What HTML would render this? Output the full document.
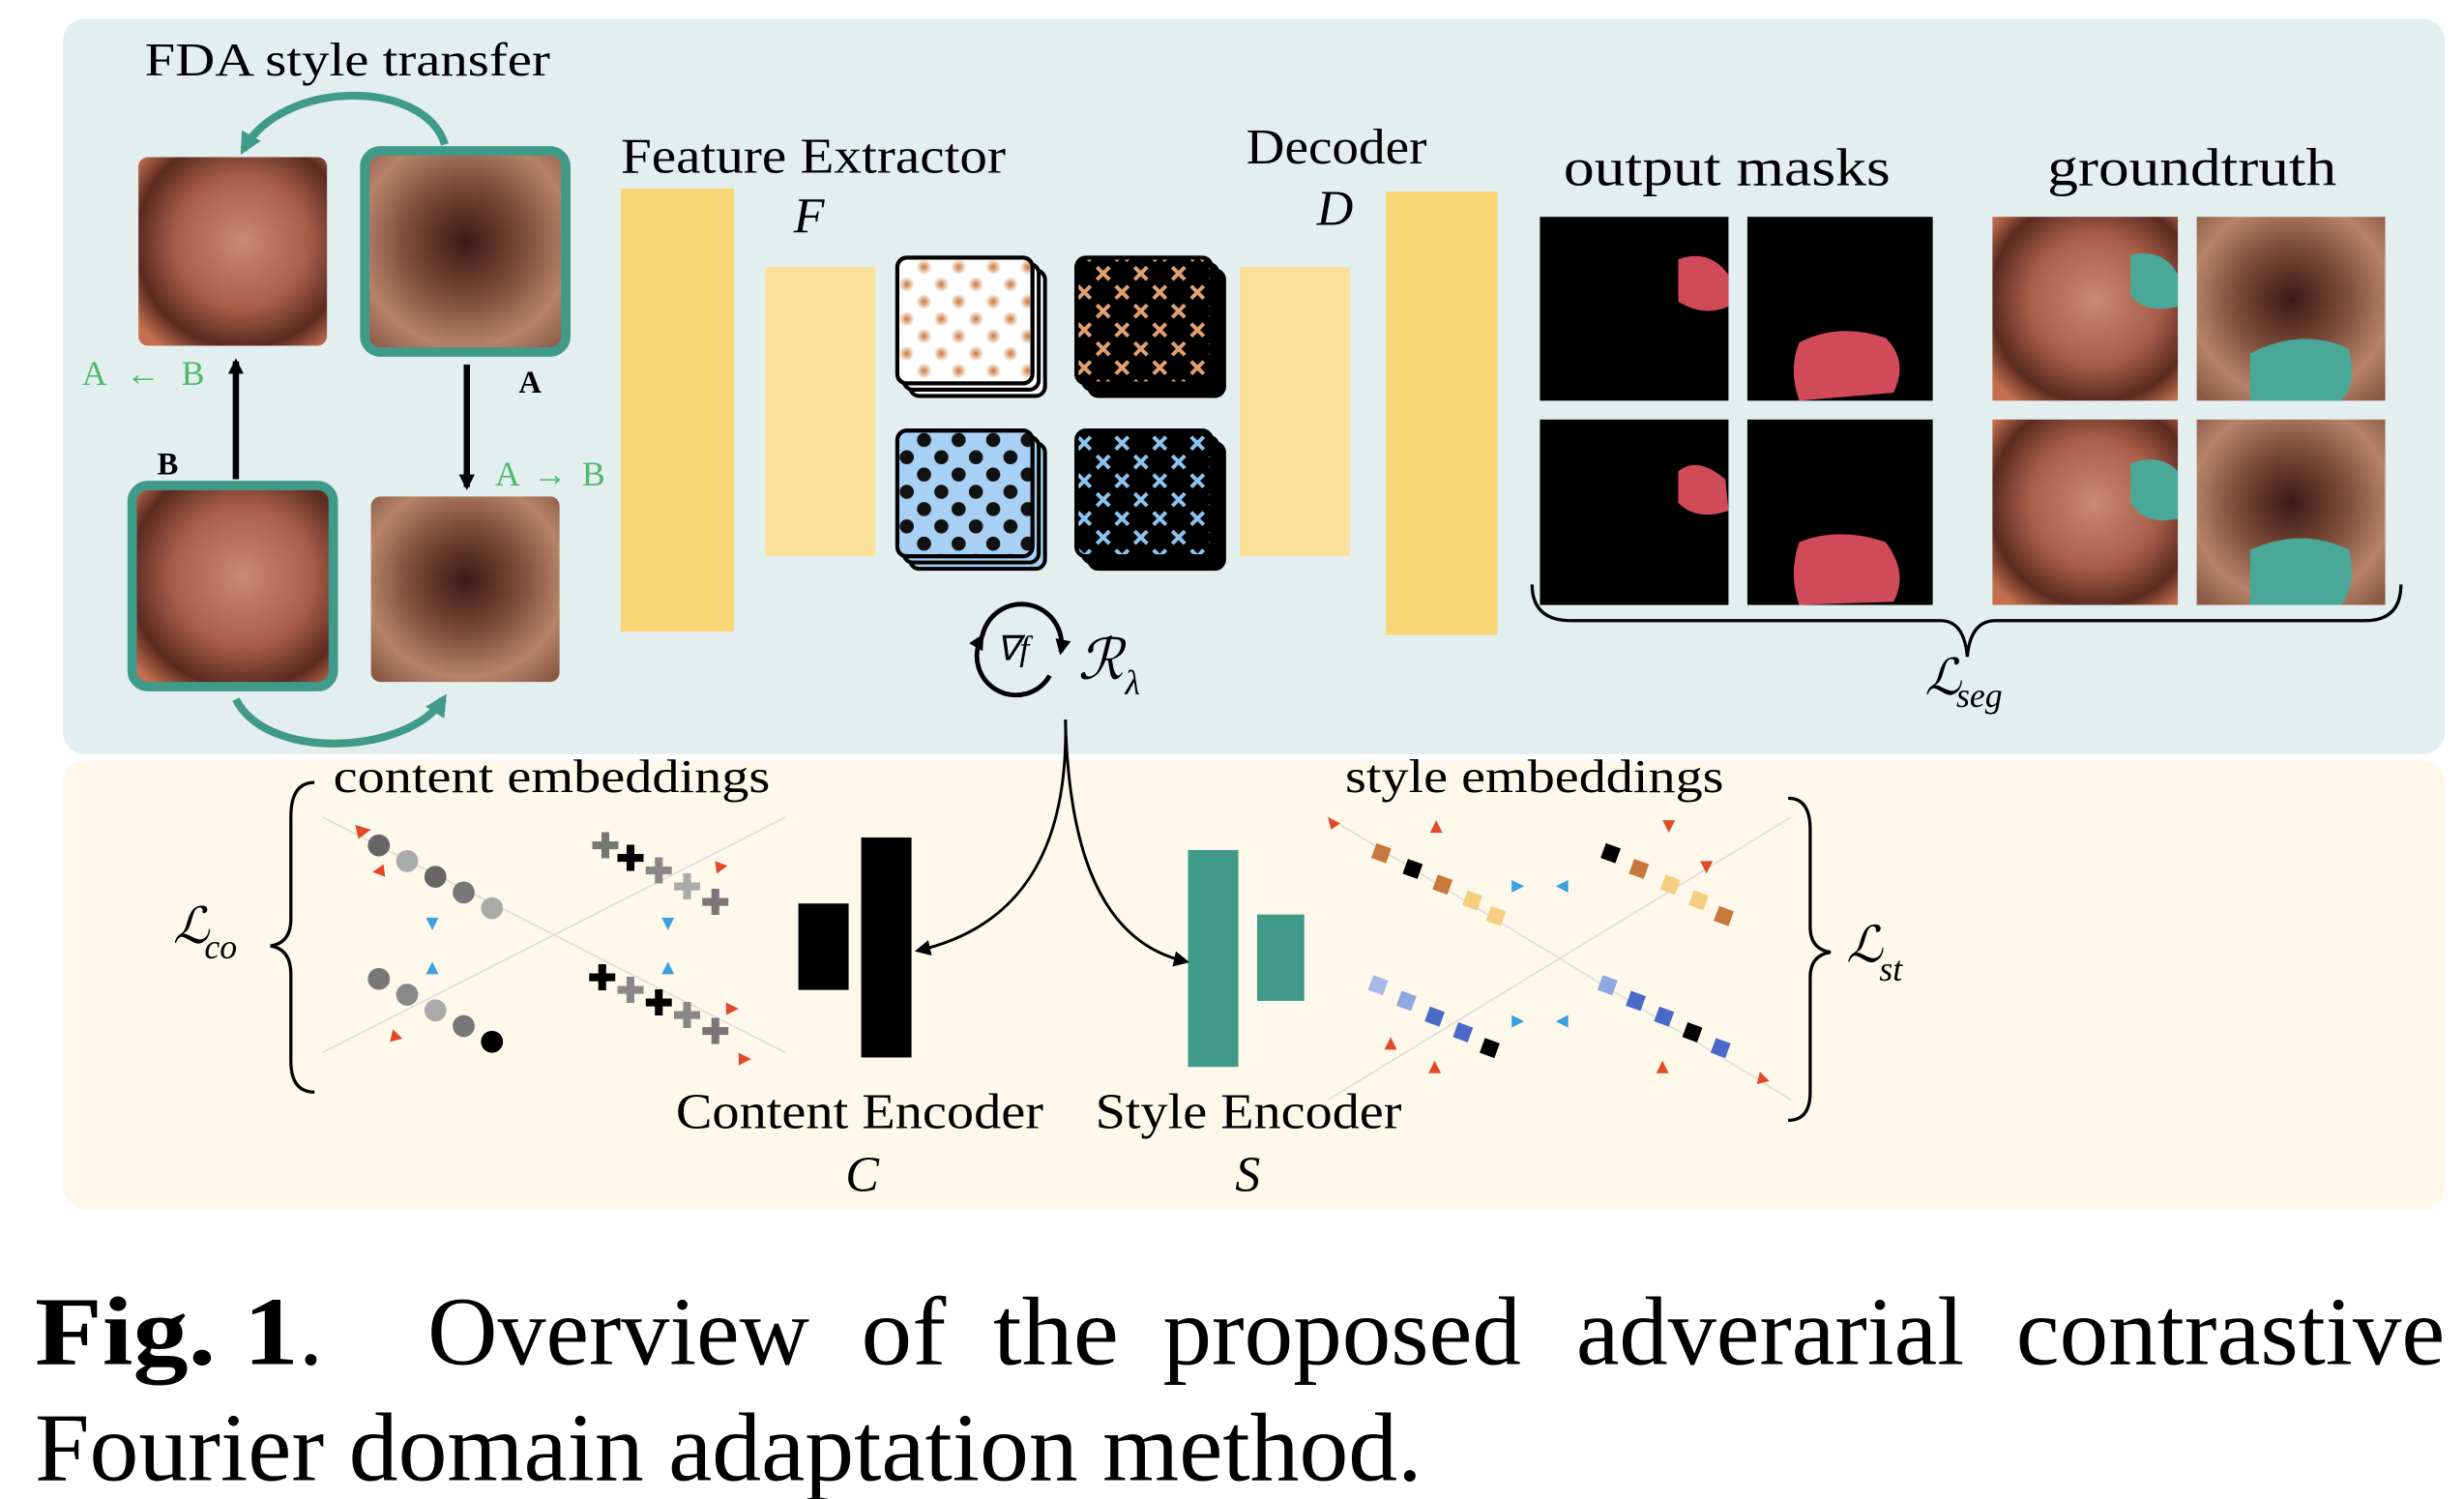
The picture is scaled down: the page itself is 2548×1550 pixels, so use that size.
<!DOCTYPE html>
<html><head><meta charset="utf-8"><style>
html,body{margin:0;padding:0;background:#fff;}
svg{display:block;}
text{font-family:"Liberation Serif",serif;}
</style></head><body>
<svg width="2548" height="1550" viewBox="0 0 1568 954" xmlns="http://www.w3.org/2000/svg">
<defs>
<radialGradient id="endoA" cx="0.55" cy="0.45" r="0.7">
<stop offset="0" stop-color="#c98a72"/><stop offset="0.5" stop-color="#a85e48"/><stop offset="0.8" stop-color="#5a2a20"/><stop offset="1" stop-color="#c4704e"/></radialGradient>
<radialGradient id="endoB" cx="0.5" cy="0.45" r="0.7">
<stop offset="0" stop-color="#3a1a14"/><stop offset="0.4" stop-color="#7a4a38"/><stop offset="0.75" stop-color="#b7836a"/><stop offset="1" stop-color="#8a5a44"/></radialGradient>
<radialGradient id="dotO"><stop offset="0" stop-color="#c8773a"/><stop offset="1" stop-color="#c8773a" stop-opacity="0"/></radialGradient>
<pattern id="pO" width="22" height="22" patternUnits="userSpaceOnUse"><circle cx="5" cy="5" r="5" fill="url(#dotO)"/><circle cx="16" cy="16" r="5" fill="url(#dotO)"/></pattern>
<pattern id="pB" width="22" height="22" patternUnits="userSpaceOnUse"><circle cx="5" cy="5" r="4.5" fill="#111"/><circle cx="16" cy="16" r="4.5" fill="#111"/></pattern>
<pattern id="pXO" width="24" height="24" patternUnits="userSpaceOnUse"><path d="M2 2l8 8M10 2l-8 8M14 14l8 8M22 14l-8 8" stroke="#e0a070" stroke-width="2.5"/></pattern>
<pattern id="pXB" width="24" height="24" patternUnits="userSpaceOnUse"><path d="M2 2l8 8M10 2l-8 8M14 14l8 8M22 14l-8 8" stroke="#8cc4f0" stroke-width="2.5"/></pattern>
<marker id="ah" markerWidth="10" markerHeight="10" refX="8" refY="5" orient="auto" markerUnits="userSpaceOnUse"><path d="M0 0L10 5L0 10z" fill="#000"/></marker>
<marker id="aht" markerWidth="14" markerHeight="14" refX="10" refY="7" orient="auto" markerUnits="userSpaceOnUse"><path d="M0 0L14 7L0 14z" fill="#3f9a8a"/></marker>
</defs>
<rect x="0" y="0" width="1568" height="954" fill="#fff"/>
<rect x="40" y="12" width="1516" height="468" rx="14" fill="#e3eeee"/>
<rect x="40" y="484" width="1516" height="286" rx="14" fill="#fdf8e9"/>

<text x="92" y="48" font-size="30" textLength="258" lengthAdjust="spacingAndGlyphs">FDA style transfer</text>
<path d="M283 92 C270 50 180 50 155 95" fill="none" stroke="#3f9a8a" stroke-width="5" marker-end="url(#aht)"/>
<rect x="88" y="100" width="120" height="120" rx="6" fill="url(#endoA)"/>
<rect x="232" y="96" width="128" height="128" rx="10" fill="url(#endoB)" stroke="#3f9a8a" stroke-width="6"/>
<rect x="84" y="309" width="128" height="128" rx="10" fill="url(#endoA)" stroke="#3f9a8a" stroke-width="6"/>
<rect x="236" y="316" width="120" height="118" rx="6" fill="url(#endoB)"/>
<path d="M150 445 C170 485 260 480 282 445" fill="none" stroke="#3f9a8a" stroke-width="5" marker-end="url(#aht)"/>
<line x1="150" y1="305" x2="150" y2="230" stroke="#000" stroke-width="4" marker-end="url(#ah)"/>
<line x1="297" y1="232" x2="297" y2="310" stroke="#000" stroke-width="4" marker-end="url(#ah)"/>
<text x="52" y="245" font-size="22" fill="#4cb86c" textLength="78">A ← B</text>
<text x="315" y="309" font-size="22" fill="#4cb86c" textLength="70">A → B</text>
<text x="330" y="250" font-size="20" font-weight="bold">A</text>
<text x="100" y="302" font-size="20" font-weight="bold">B</text>

<text x="395" y="110" font-size="32" textLength="245" lengthAdjust="spacingAndGlyphs">Feature Extractor</text>
<text x="505" y="148" font-size="32" font-style="italic">F</text>
<rect x="395" y="120" width="72" height="282" fill="#f9d776"/>
<rect x="487" y="170" width="70" height="184" fill="#fbe09a"/>
<text x="793" y="104" font-size="32" textLength="115" lengthAdjust="spacingAndGlyphs">Decoder</text>
<text x="838" y="143" font-size="32" font-style="italic">D</text>
<rect x="789" y="170" width="70" height="184" fill="#fbe09a"/>
<rect x="882" y="122" width="71" height="282" fill="#f9d776"/>

<g stroke="#000" stroke-width="2.5">
<rect x="579" y="172" width="86" height="80" rx="6" fill="#fff"/><rect x="575" y="168" width="86" height="80" rx="6" fill="#fff"/><rect x="571" y="164" width="86" height="80" rx="6" fill="#fff"/>
<rect x="571" y="164" width="86" height="80" rx="6" fill="url(#pO)"/>
<rect x="693" y="172" width="86" height="80" rx="6" fill="#000"/><rect x="689" y="168" width="86" height="80" rx="6" fill="#000"/><rect x="685" y="164" width="86" height="80" rx="6" fill="#000"/>
<rect x="685" y="164" width="86" height="80" rx="6" fill="url(#pXO)"/>
<rect x="579" y="282" width="86" height="80" rx="6" fill="#a7d0f4"/><rect x="575" y="278" width="86" height="80" rx="6" fill="#a7d0f4"/><rect x="571" y="274" width="86" height="80" rx="6" fill="#a7d0f4"/>
<rect x="571" y="274" width="86" height="80" rx="6" fill="url(#pB)"/>
<rect x="693" y="282" width="86" height="80" rx="6" fill="#000"/><rect x="689" y="278" width="86" height="80" rx="6" fill="#000"/><rect x="685" y="274" width="86" height="80" rx="6" fill="#000"/>
<rect x="685" y="274" width="86" height="80" rx="6" fill="url(#pXB)"/>
</g>
<path d="M625 405 A24 24 0 0 1 675 415" fill="none" stroke="#000" stroke-width="3" marker-end="url(#ah)"/>
<path d="M668 430 A24 24 0 0 1 625 405" fill="none" stroke="#000" stroke-width="3" marker-end="url(#ah)"/>
<text x="634" y="420" font-size="22" font-style="italic">∇f</text>
<text x="686" y="432" font-size="36" font-style="italic">ℛ</text><text x="716" y="442" font-size="22" font-style="italic">λ</text>

<text x="995" y="118" font-size="34" textLength="208" lengthAdjust="spacingAndGlyphs">output masks</text>
<text x="1303" y="118" font-size="34" textLength="184" lengthAdjust="spacingAndGlyphs">groundtruth</text>
<rect x="980" y="138" width="120" height="117" fill="#000"/>
<rect x="1112" y="138" width="118" height="117" fill="#000"/>
<rect x="980" y="267" width="120" height="118" fill="#000"/>
<rect x="1112" y="267" width="118" height="118" fill="#000"/>
<path d="M1068 165 Q1088 158 1100 175 L1100 195 Q1085 202 1068 192 Z" fill="#d04a5a"/>
<path d="M1145 218 Q1170 205 1200 215 Q1215 230 1205 250 L1145 255 Q1138 235 1145 218Z" fill="#d04a5a"/>
<path d="M1068 300 Q1080 290 1098 305 L1100 325 Q1080 332 1068 320 Z" fill="#d04a5a"/>
<path d="M1145 345 Q1170 335 1200 345 Q1215 365 1205 383 L1145 385 Q1138 365 1145 345Z" fill="#d04a5a"/>
<rect x="1268" y="138" width="118" height="117" fill="url(#endoA)"/>
<rect x="1398" y="138" width="120" height="117" fill="url(#endoB)"/>
<rect x="1268" y="267" width="118" height="118" fill="url(#endoA)"/>
<rect x="1398" y="267" width="120" height="118" fill="url(#endoB)"/>
<path d="M1356 162 Q1378 158 1386 175 L1386 195 Q1365 200 1356 188Z" fill="#4aa898"/>
<path d="M1432 225 Q1465 208 1495 222 Q1500 245 1490 255 L1432 255Z" fill="#4aa898"/>
<path d="M1356 295 Q1375 288 1386 300 L1386 330 Q1365 335 1356 320Z" fill="#4aa898"/>
<path d="M1432 350 Q1465 335 1495 350 Q1500 372 1490 385 L1432 385Z" fill="#4aa898"/>
<path d="M975 372 Q975 395 1000 395 L1235 395 Q1250 395 1252 418 Q1254 395 1270 395 L1505 395 Q1528 395 1528 372" fill="none" stroke="#000" stroke-width="2"/>
<text x="1225" y="442" font-size="32" font-style="italic">ℒ</text><text x="1245" y="450" font-size="22" font-style="italic">seg</text>

<text x="212" y="504" font-size="30" textLength="278" lengthAdjust="spacingAndGlyphs">content embeddings</text>
<text x="856" y="504" font-size="30" textLength="241" lengthAdjust="spacingAndGlyphs">style embeddings</text>
<path d="M200 498 Q185 498 185 520 L185 585 Q185 600 172 602 Q185 604 185 620 L185 675 Q185 695 200 695" fill="none" stroke="#000" stroke-width="2"/>
<text x="110" y="600" font-size="32" font-style="italic">ℒ</text><text x="130" y="610" font-size="22" font-style="italic">co</text>
<path d="M1138 508 Q1152 508 1152 528 L1152 590 Q1152 604 1165 606 Q1152 608 1152 622 L1152 695 Q1152 713 1138 713" fill="none" stroke="#000" stroke-width="2"/>
<text x="1175" y="612" font-size="32" font-style="italic">ℒ</text><text x="1196" y="624" font-size="22" font-style="italic">st</text>
<g stroke="#ddd" stroke-width="1">
<line x1="205" y1="520" x2="500" y2="670"/><line x1="205" y1="670" x2="500" y2="520"/>
<line x1="845" y1="520" x2="1140" y2="700"/><line x1="845" y1="700" x2="1140" y2="520"/>
</g>
<g>
<circle cx="241" cy="538" r="7" fill="#666"/><circle cx="259" cy="548" r="7" fill="#aaa"/><circle cx="277" cy="558" r="7" fill="#666"/><circle cx="295" cy="568" r="7" fill="#777"/><circle cx="313" cy="578" r="7" fill="#aaa"/>
<circle cx="241" cy="623" r="7" fill="#777"/><circle cx="259" cy="633" r="7" fill="#888"/><circle cx="277" cy="643" r="7" fill="#aaa"/><circle cx="295" cy="653" r="7" fill="#777"/><circle cx="313" cy="663" r="7" fill="#000"/>
<g font-size="22" font-weight="bold">
<text x="376" y="546" fill="#777">✚</text><text x="392" y="554" fill="#000">✚</text><text x="410" y="562" fill="#888">✚</text><text x="428" y="572" fill="#aaa">✚</text><text x="446" y="582" fill="#777">✚</text>
<text x="374" y="630" fill="#000">✚</text><text x="392" y="638" fill="#888">✚</text><text x="410" y="646" fill="#000">✚</text><text x="428" y="654" fill="#888">✚</text><text x="446" y="664" fill="#777">✚</text>
</g>
<path d="M275 592l-4 -8h8z M275 612l-4 8h8z M425 592l-4 -8h8z M425 612l-4 8h8z" fill="#3aa0e0"/>
<path d="M226 525l10 3-8 6z M245 558l-8 -3 7 -5z M250 655l6 6-8 2z M455 548l8 3-7 5z M462 638l8 4-8 4z M470 670l8 4-8 4z" fill="#e04a2a"/>
</g>
<g>
<rect x="874" y="538" width="10" height="10" fill="#c8773a" transform="rotate(20 879 543)"/>
<rect x="894" y="548" width="10" height="10" fill="#000" transform="rotate(20 899 553)"/>
<rect x="913" y="558" width="10" height="10" fill="#c8773a" transform="rotate(20 918 563)"/>
<rect x="932" y="568" width="10" height="10" fill="#f5cf80" transform="rotate(20 937 573)"/>
<rect x="947" y="578" width="10" height="10" fill="#f5cf80" transform="rotate(20 952 583)"/>
<rect x="1020" y="538" width="10" height="10" fill="#000" transform="rotate(20 1025 543)"/>
<rect x="1038" y="548" width="10" height="10" fill="#c8773a" transform="rotate(20 1043 553)"/>
<rect x="1058" y="558" width="10" height="10" fill="#f5cf80" transform="rotate(20 1063 563)"/>
<rect x="1076" y="568" width="10" height="10" fill="#f5cf80" transform="rotate(20 1081 573)"/>
<rect x="1092" y="578" width="10" height="10" fill="#c8773a" transform="rotate(20 1097 583)"/>
<rect x="872" y="622" width="10" height="10" fill="#a8b8e8" transform="rotate(20 877 627)"/>
<rect x="890" y="632" width="10" height="10" fill="#8ea8e0" transform="rotate(20 895 637)"/>
<rect x="908" y="642" width="10" height="10" fill="#4a6ac8" transform="rotate(20 913 647)"/>
<rect x="926" y="652" width="10" height="10" fill="#4a6ac8" transform="rotate(20 931 657)"/>
<rect x="943" y="662" width="10" height="10" fill="#000" transform="rotate(20 948 667)"/>
<rect x="1018" y="622" width="10" height="10" fill="#8ea8e0" transform="rotate(20 1023 627)"/>
<rect x="1036" y="632" width="10" height="10" fill="#4a6ac8" transform="rotate(20 1041 637)"/>
<rect x="1054" y="642" width="10" height="10" fill="#4a6ac8" transform="rotate(20 1059 647)"/>
<rect x="1072" y="652" width="10" height="10" fill="#000" transform="rotate(20 1077 657)"/>
<rect x="1090" y="662" width="10" height="10" fill="#4a6ac8" transform="rotate(20 1095 667)"/>
<path d="M962 560l8 4-8 4z M998 560l-8 4 8 4z M962 646l8 4-8 4z M998 646l-8 4 8 4z" fill="#3aa0e0"/>
<path d="M845 520l8 4-6 4z M914 522l-4 8h8z M1062 530l-4 -8h8z M1090 548l-4 8-4 -8z M885 660l-4 8h8z M913 675l-4 8h8z M1058 675l4 8-8 0z M1120 682l6 6-8 2z" fill="#e04a2a"/>
</g>
<rect x="508" y="575" width="32" height="55" fill="#000"/>
<rect x="548" y="533" width="32" height="140" fill="#000"/>
<rect x="756" y="541" width="32" height="138" fill="#3f9a8a"/>
<rect x="800" y="582" width="30" height="55" fill="#3f9a8a"/>
<path d="M678 458 C680 540 650 590 584 605" fill="none" stroke="#000" stroke-width="1.8" marker-end="url(#ah)"/>
<path d="M678 458 C680 540 700 600 755 612" fill="none" stroke="#000" stroke-width="1.8" marker-end="url(#ah)"/>
<text x="430" y="718" font-size="32" textLength="234" lengthAdjust="spacingAndGlyphs">Content Encoder</text>
<text x="538" y="758" font-size="32" font-style="italic">C</text>
<text x="697" y="718" font-size="32" textLength="195" lengthAdjust="spacingAndGlyphs">Style Encoder</text>
<text x="786" y="758" font-size="32" font-style="italic">S</text>

<g font-size="62">
<text x="22" y="868" font-weight="bold" textLength="168" lengthAdjust="spacingAndGlyphs">Fig. 1</text><text x="190" y="868">.</text>
<text x="272" y="868" textLength="243" lengthAdjust="spacingAndGlyphs">Overview</text>
<text x="548" y="868" textLength="54" lengthAdjust="spacingAndGlyphs">of</text>
<text x="632" y="868" textLength="80" lengthAdjust="spacingAndGlyphs">the</text>
<text x="740" y="868" textLength="228" lengthAdjust="spacingAndGlyphs">proposed</text>
<text x="1003" y="868" textLength="247" lengthAdjust="spacingAndGlyphs">adverarial</text>
<text x="1283" y="868" textLength="273" lengthAdjust="spacingAndGlyphs">contrastive</text>
<text x="22" y="942" textLength="883" lengthAdjust="spacingAndGlyphs">Fourier domain adaptation method.</text>
</g>
</svg>
</body></html>
